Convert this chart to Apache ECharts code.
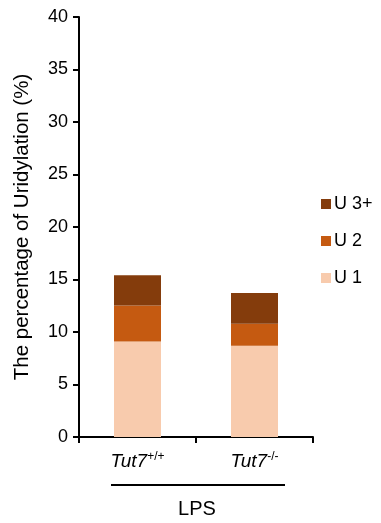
<!DOCTYPE html>
<html><head><meta charset="utf-8">
<script src="https://cdn.jsdelivr.net/npm/echarts@6/dist/echarts.min.js"></script>
<style>html,body{margin:0;padding:0;background:#fff}#c{width:381px;height:523px}</style>
</head><body><div id="c"></div>
<script>
var categories = ['Tut7+/+', 'Tut7-/-'];
var u1 = [9.1, 8.7];
var u2 = [3.43, 2.09];
var u3 = [2.87, 2.92];
var yTicks = [0, 5, 10, 15, 20, 25, 30, 35, 40];
var groupLabel = 'LPS';

var F = 'Liberation Sans, Arial, sans-serif';
var chart = echarts.init(document.getElementById('c'));
function lab(v){ var m = v.match(/^(Tut7)(.*)$/); return '{i|' + m[1] + '}{s|' + m[2] + '}'; }
chart.setOption({
  animation: false,
  grid: {left: 79, right: 68, top: 17, bottom: 86},
  legend: {
    orient: 'vertical', left: 316, top: 190, itemWidth: 10, itemHeight: 10, itemGap: 19,
    data: ['U 3+', 'U 2', 'U 1'],
    textStyle: {fontFamily: F, fontSize: 18, color: '#000', padding: [0,0,0,-2]},
    icon: 'rect'
  },
  xAxis: {
    type: 'category', data: categories,
    axisLine: {lineStyle: {color: '#000', width: 2}},
    axisTick: {show: true, length: 6, lineStyle: {color: '#000', width: 2}},
    axisLabel: {margin: 14, formatter: lab, rich: {
      i: {fontFamily: F, fontSize: 19, fontStyle: 'italic', color: '#000'},
      s: {fontFamily: F, fontSize: 12, color: '#000', padding: [0,0,10,0]}
    }}
  },
  yAxis: {
    type: 'value', min: 0, max: 40, interval: 5,
    name: 'The percentage of Uridylation (%)', nameLocation: 'middle', nameGap: 46,
    nameTextStyle: {fontFamily: F, fontSize: 20.5, color: '#000'},
    axisLine: {show: true, lineStyle: {color: '#000', width: 2}},
    axisTick: {show: true, length: 6, lineStyle: {color: '#000', width: 2}},
    splitLine: {show: false},
    axisLabel: {margin: 11, fontFamily: F, fontSize: 18, color: '#000',
      formatter: function(v){ return yTicks.indexOf(v) >= 0 ? String(v) : ''; }}
  },
  graphic: [
    {type: 'line', shape: {x1: 111, y1: 485, x2: 285, y2: 485}, style: {stroke: '#000', lineWidth: 2}},
    {type: 'text', x: 197, y: 509, style: {text: groupLabel, fontFamily: F, fontSize: 20, fill: '#000', align: 'center', verticalAlign: 'middle'}}
  ],
  series: [
    {name: 'U 1', type: 'bar', stack: 's', data: u1, barWidth: 47, itemStyle: {color: '#F8CBAD'}},
    {name: 'U 2', type: 'bar', stack: 's', data: u2, barWidth: 47, itemStyle: {color: '#C55A11'}},
    {name: 'U 3+', type: 'bar', stack: 's', data: u3, barWidth: 47, itemStyle: {color: '#843C0C'}}
  ]
});
</script></body></html>
